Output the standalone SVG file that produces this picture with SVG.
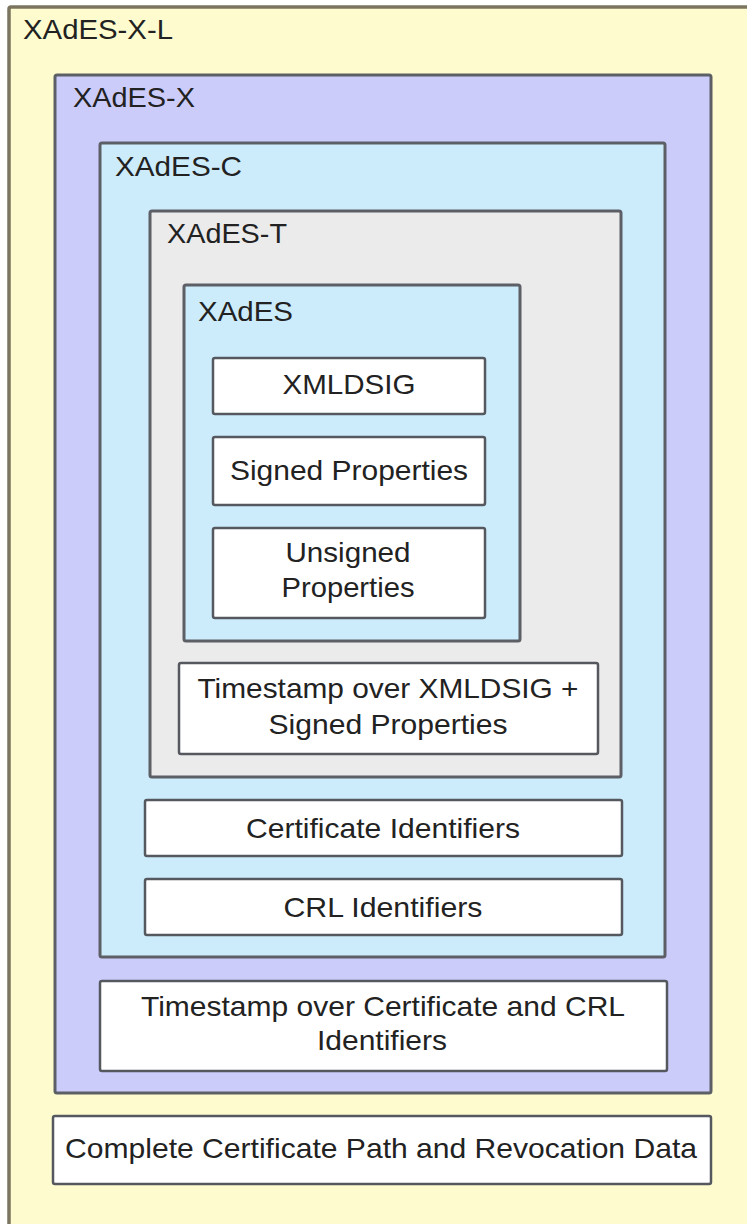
<svg xmlns="http://www.w3.org/2000/svg" width="747" height="1224" viewBox="0 0 747 1224">
<style>
.box{stroke:#55595f;stroke-width:2.5}
.lvl{stroke:#5c5f66;stroke-width:3}
.outer{fill:#fefccf;stroke:#7b7560;stroke-width:3.5}
.x{fill:#ccccfb}
.c{fill:#cdecfb}
.t{fill:#ebebeb}
.w{fill:#ffffff}
text{font-family:"Liberation Sans",Arial,sans-serif;font-size:28px;fill:#222}
.m{text-anchor:middle}
</style>
<rect width="747" height="1224" fill="#ffffff"/>
<g id="xades-x-l">
<rect class="outer" x="9" y="7" width="760" height="1240" rx="2"/>
<text x="23" y="39" textLength="150" lengthAdjust="spacingAndGlyphs">XAdES-X-L</text>
</g>
<g id="xades-x">
<rect class="lvl x" x="55" y="75" width="656" height="1018" rx="2"/>
<text x="73" y="107" textLength="122" lengthAdjust="spacingAndGlyphs">XAdES-X</text>
</g>
<g id="xades-c">
<rect class="lvl c" x="100" y="143" width="565" height="814" rx="2"/>
<text x="115" y="176" textLength="127" lengthAdjust="spacingAndGlyphs">XAdES-C</text>
</g>
<g id="xades-t">
<rect class="lvl t" x="150" y="211" width="471" height="566" rx="2"/>
<text x="167" y="243" textLength="120" lengthAdjust="spacingAndGlyphs">XAdES-T</text>
</g>
<g id="xades">
<rect class="lvl c" x="184" y="285" width="336" height="356" rx="2"/>
<text x="198" y="321" textLength="95" lengthAdjust="spacingAndGlyphs">XAdES</text>
</g>
<g id="xmldsig">
<rect class="box w" x="213" y="358" width="272" height="56" rx="2"/>
<text class="m" x="349" y="394" textLength="133" lengthAdjust="spacingAndGlyphs">XMLDSIG</text>
</g>
<g id="signed-properties">
<rect class="box w" x="213" y="437" width="272" height="68" rx="2"/>
<text class="m" x="349" y="480" textLength="238" lengthAdjust="spacingAndGlyphs">Signed Properties</text>
</g>
<g id="unsigned-properties">
<rect class="box w" x="213" y="528" width="272" height="90" rx="2"/>
<text class="m" x="348" y="562" textLength="125" lengthAdjust="spacingAndGlyphs">Unsigned</text>
<text class="m" x="348" y="597" textLength="133" lengthAdjust="spacingAndGlyphs">Properties</text>
</g>
<g id="timestamp-xmldsig">
<rect class="box w" x="179" y="663" width="419" height="91" rx="2"/>
<text class="m" x="388" y="698" textLength="381" lengthAdjust="spacingAndGlyphs">Timestamp over XMLDSIG +</text>
<text class="m" x="388" y="734" textLength="239" lengthAdjust="spacingAndGlyphs">Signed Properties</text>
</g>
<g id="certificate-identifiers">
<rect class="box w" x="145" y="800" width="477" height="56" rx="2"/>
<text class="m" x="383" y="838" textLength="274" lengthAdjust="spacingAndGlyphs">Certificate Identifiers</text>
</g>
<g id="crl-identifiers">
<rect class="box w" x="145" y="879" width="477" height="56" rx="2"/>
<text class="m" x="383" y="917" textLength="199" lengthAdjust="spacingAndGlyphs">CRL Identifiers</text>
</g>
<g id="timestamp-cert-crl">
<rect class="box w" x="100" y="981" width="567" height="90" rx="2"/>
<text class="m" x="383" y="1016" textLength="484" lengthAdjust="spacingAndGlyphs">Timestamp over Certificate and CRL</text>
<text class="m" x="382" y="1050" textLength="130" lengthAdjust="spacingAndGlyphs">Identifiers</text>
</g>
<g id="complete-certificate-path">
<rect class="box w" x="53" y="1116" width="658" height="68" rx="2"/>
<text class="m" x="381" y="1158" textLength="632" lengthAdjust="spacingAndGlyphs">Complete Certificate Path and Revocation Data</text>
</g>
<g id="connectors"/>
</svg>
